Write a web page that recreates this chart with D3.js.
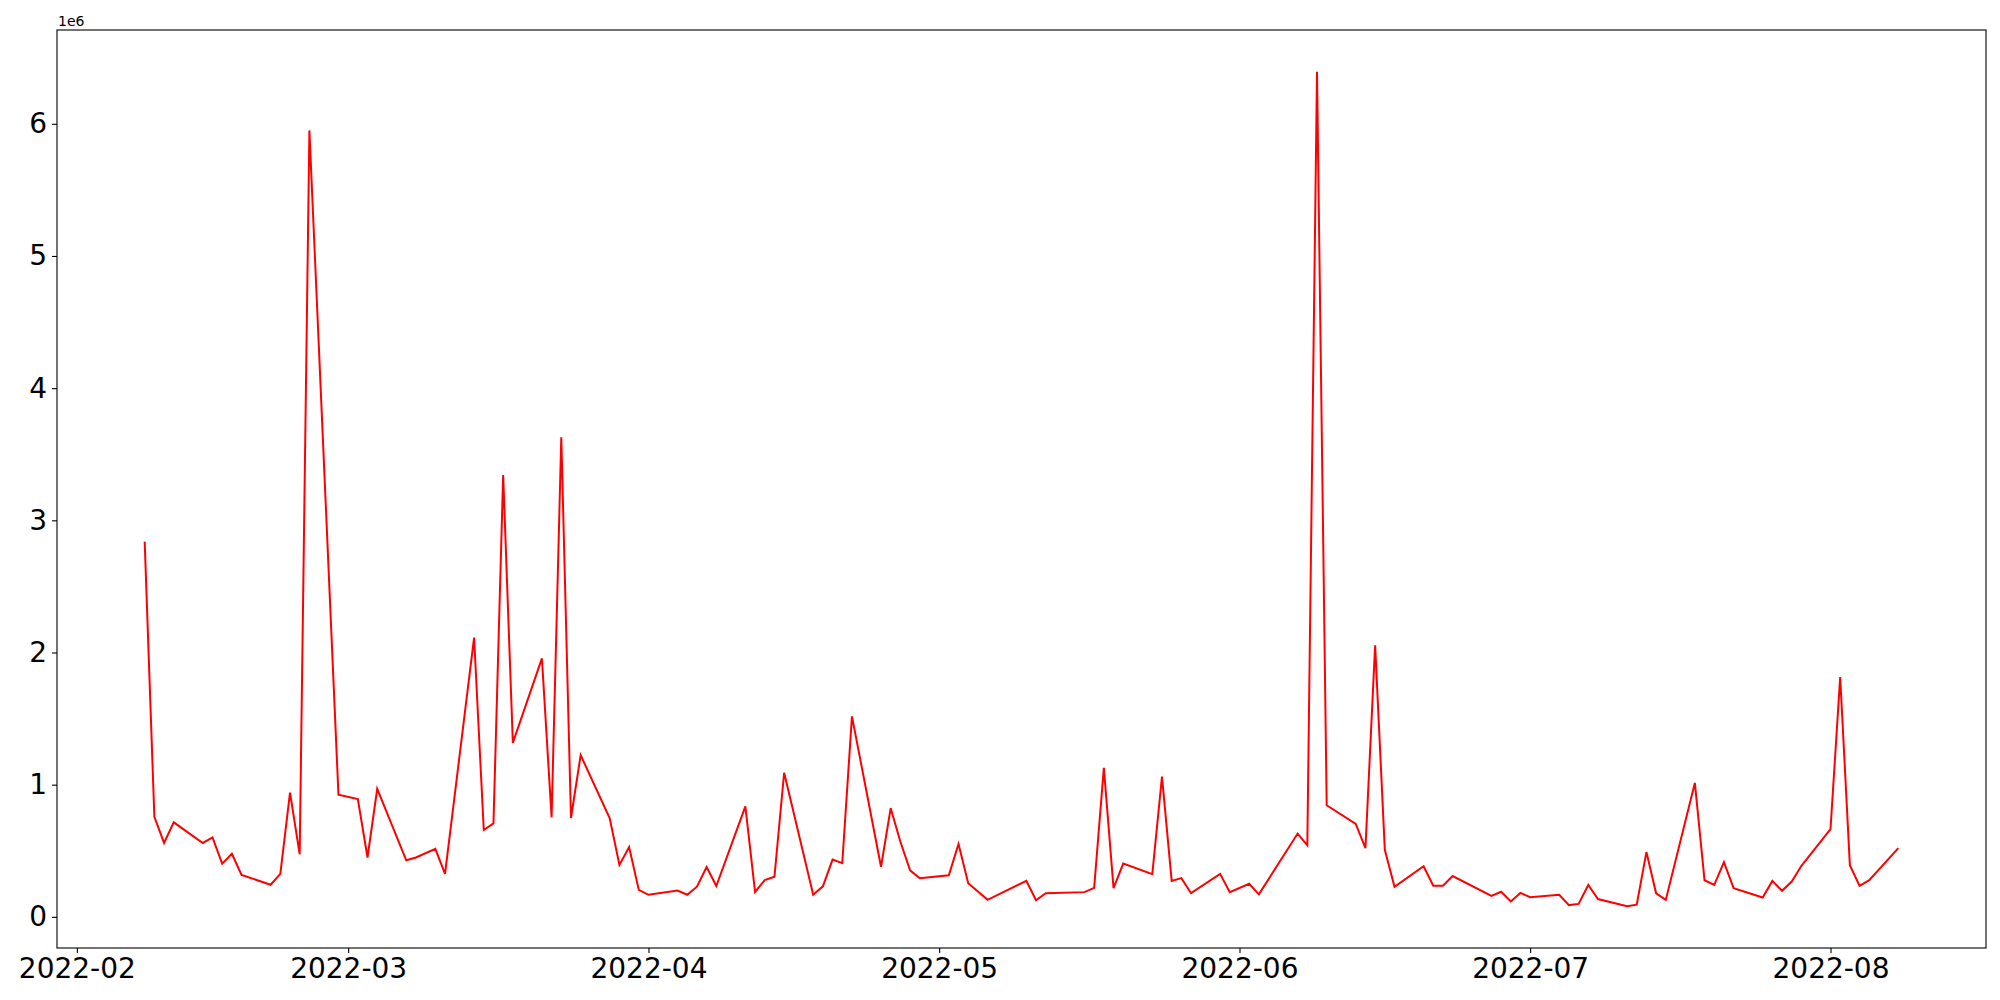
<!doctype html>
<html lang='en'>
<head>
<meta charset='UTF-8'>
<title>Daily volume</title>
<style>
  body { margin: 0; background: #fff; }
  svg { display: block; font-family: 'DejaVu Sans', sans-serif; }
  .axis path, .axis line { stroke: #000; stroke-width: 1.1px; }
  .axis text { fill: #000; font-size: 28px; font-family: 'DejaVu Sans', sans-serif; }
</style>
</head>
<body>
<script src='https://d3js.org/d3.v7.min.js'></script>
<script>
  const dates = [
    '2022-02-08', '2022-02-09', '2022-02-10', '2022-02-11', '2022-02-14', '2022-02-15', '2022-02-16', '2022-02-17', '2022-02-18',
    '2022-02-21', '2022-02-22', '2022-02-23', '2022-02-24', '2022-02-25', '2022-02-28', '2022-03-02', '2022-03-03', '2022-03-04',
    '2022-03-07', '2022-03-08', '2022-03-10', '2022-03-11', '2022-03-14', '2022-03-15', '2022-03-16', '2022-03-17', '2022-03-18',
    '2022-03-21', '2022-03-22', '2022-03-23', '2022-03-24', '2022-03-25', '2022-03-28', '2022-03-29', '2022-03-30', '2022-03-31',
    '2022-04-01', '2022-04-04', '2022-04-05', '2022-04-06', '2022-04-07', '2022-04-08', '2022-04-11', '2022-04-12', '2022-04-13',
    '2022-04-14', '2022-04-15', '2022-04-18', '2022-04-19', '2022-04-20', '2022-04-21', '2022-04-22', '2022-04-25', '2022-04-26',
    '2022-04-27', '2022-04-28', '2022-04-29', '2022-05-02', '2022-05-03', '2022-05-04', '2022-05-06', '2022-05-10', '2022-05-11',
    '2022-05-12', '2022-05-16', '2022-05-17', '2022-05-18', '2022-05-19', '2022-05-20', '2022-05-23', '2022-05-24', '2022-05-25',
    '2022-05-26', '2022-05-27', '2022-05-30', '2022-05-31', '2022-06-02', '2022-06-03', '2022-06-07', '2022-06-08', '2022-06-09',
    '2022-06-10', '2022-06-13', '2022-06-14', '2022-06-15', '2022-06-16', '2022-06-17', '2022-06-20', '2022-06-21', '2022-06-22',
    '2022-06-23', '2022-06-27', '2022-06-28', '2022-06-29', '2022-06-30', '2022-07-01', '2022-07-04', '2022-07-05', '2022-07-06',
    '2022-07-07', '2022-07-08', '2022-07-11', '2022-07-12', '2022-07-13', '2022-07-14', '2022-07-15', '2022-07-18', '2022-07-19',
    '2022-07-20', '2022-07-21', '2022-07-22', '2022-07-25', '2022-07-26', '2022-07-27', '2022-07-28', '2022-07-29', '2022-08-01',
    '2022-08-02', '2022-08-03', '2022-08-04', '2022-08-05', '2022-08-08'
  ]

  // values in units of 1e6
  const values = [
    2.839, 0.756, 0.559, 0.715, 0.559, 0.601, 0.403, 0.477, 0.317,
    0.243, 0.325, 0.940, 0.473, 5.950, 0.924, 0.891, 0.449, 0.969,
    0.428, 0.449, 0.514, 0.325, 2.113, 0.657, 0.707, 3.343, 1.316,
    1.955, 0.753, 3.629, 0.748, 1.223, 0.746, 0.393, 0.528, 0.204,
    0.167, 0.199, 0.167, 0.228, 0.377, 0.233, 0.836, 0.188, 0.278,
    0.303, 1.090, 0.167, 0.231, 0.433, 0.406, 1.517, 0.379, 0.822,
    0.568, 0.352, 0.292, 0.315, 0.552, 0.255, 0.129, 0.272, 0.126,
    0.179, 0.187, 0.219, 1.127, 0.217, 0.403, 0.323, 1.061, 0.272,
    0.293, 0.179, 0.325, 0.187, 0.250, 0.170, 0.630, 0.541, 6.394,
    0.844, 0.703, 0.520, 2.055, 0.507, 0.227, 0.383, 0.236, 0.236,
    0.309, 0.158, 0.190, 0.117, 0.181, 0.149, 0.167, 0.089, 0.098,
    0.241, 0.135, 0.080, 0.092, 0.490, 0.178, 0.128, 1.013, 0.277,
    0.242, 0.414, 0.217, 0.146, 0.272, 0.197, 0.267, 0.386, 0.663,
    1.815, 0.391, 0.234, 0.277, 0.520
  ].map(v => v * 1e6)

  const yTicks = [0, 1e6, 2e6, 3e6, 4e6, 5e6, 6e6]

  const W = 2000
  const H = 1000
  const margin = { top: 30, right: 14, bottom: 52, left: 57 }
  const w = W - margin.left - margin.right
  const h = H - margin.top - margin.bottom

  const parse = d3.timeParse('%Y-%m-%d')
  const data = dates.map((d, i) => ({ date: parse(d), value: values[i] }))

  // matplotlib style 5% margins
  const xExt = d3.extent(data, d => +d.date)
  const xPad = (xExt[1] - xExt[0]) * 0.05
  const yExt = d3.extent(values)
  const yPad = (yExt[1] - yExt[0]) * 0.05

  const xScale = d3.scaleTime()
    .domain([new Date(xExt[0] - xPad), new Date(xExt[1] + xPad)])
    .range([0, w])

  const yScale = d3.scaleLinear()
    .domain([yExt[0] - yPad, yExt[1] + yPad])
    .range([h, 0])

  const svg = d3.select('body')
    .append('svg')
    .attr('width', W)
    .attr('height', H)

  const g = svg.append('g')
    .attr('transform', `translate(${margin.left},${margin.top})`)

  /******************** axes ******************/

  g.append('g')
    .attr('class', 'axis')
    .attr('transform', `translate(0,${h})`)
    .call(d3.axisBottom(xScale)
      .ticks(d3.timeMonth.every(1))
      .tickFormat(d3.timeFormat('%Y-%m'))
      .tickSize(5)
      .tickPadding(5))
    .call(a => a.select('.domain').remove())

  g.append('g')
    .attr('class', 'axis')
    .call(d3.axisLeft(yScale)
      .tickValues(yTicks)
      .tickFormat(d => d / 1e6)
      .tickSize(5)
      .tickPadding(5))
    .call(a => a.select('.domain').remove())

  // frame
  g.append('rect')
    .attr('width', w)
    .attr('height', h)
    .attr('fill', 'none')
    .attr('stroke', '#000')
    .attr('stroke-width', 1.1)

  // offset text
  g.append('text')
    .attr('x', 1)
    .attr('y', -4)
    .attr('font-size', '14px')
    .attr('fill', '#000')
    .text('1e6')

  /******************** line ******************/

  const line = d3.line()
    .x(d => xScale(d.date))
    .y(d => yScale(d.value))

  g.append('path')
    .datum(data)
    .attr('fill', 'none')
    .attr('stroke', 'red')
    .attr('stroke-width', 2)
    .attr('stroke-linejoin', 'miter')
    .attr('d', line)
</script>
</body>
</html>
